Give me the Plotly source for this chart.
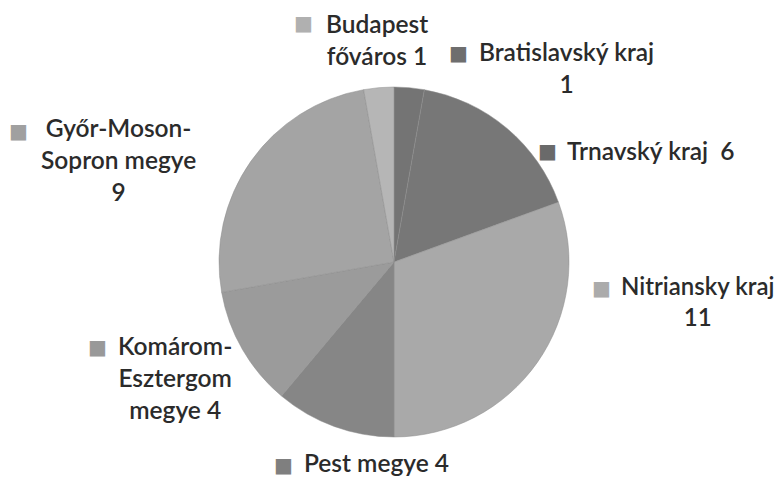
import plotly.graph_objects as go

regions = ["Bratislavský kraj", "Trnavský kraj", "Nitriansky kraj", "Pest megye",
           "Komárom-Esztergom megye", "Győr-Moson-Sopron megye", "Budapest főváros"]
counts = [1, 6, 11, 4, 4, 9, 1]
slice_colors = ["#747474", "#777777", "#a9a9a9", "#868686", "#9b9b9b", "#a4a4a4", "#b6b6b6"]
marker_colors = ["#6e6e6e", "#6a6a6a", "#ababab", "#7f7f7f", "#999999", "#a0a0a0", "#b0b0b0"]

# label text blocks (as wrapped in the original)
label_texts = [
    "Bratislavský kraj<br>1",
    "Trnavský kraj  6",
    "Nitriansky kraj<br>11",
    "Pest megye 4",
    "Komárom-<br>Esztergom<br>megye 4",
    "Győr-Moson-<br>Sopron megye<br>9",
    "Budapest<br>főváros 1",
]

# placement in screen pixels (page has an 8px body margin)
OFF = 8
W, H = 782 - OFF, 479 - OFF
label_cx = [566, 651, 697, 376, 175, 118, 377]
label_top = [35, 134, 269, 446, 329, 111, 7]
label_size = [24.5, 24.5, 24, 24.5, 24.5, 24.5, 24.5]
marker_xy = [(458, 53), (547, 151), (601, 288), (283, 465), (97, 347), (18, 131), (303, 23)]
pie_c = (394, 262)
pie_r = 175

FONT = "Lato, Open Sans, sans-serif"

fig = go.Figure(go.Pie(
    labels=regions,
    values=counts,
    sort=False,
    direction="clockwise",
    rotation=0,
    marker=dict(colors=slice_colors, line=dict(color="#8c8c8c", width=0.5)),
    textinfo="none",
    hoverinfo="label+value",
    showlegend=False,
    domain=dict(
        x=[(pie_c[0] - pie_r - OFF) / W, (pie_c[0] + pie_r - OFF) / W],
        y=[1 - (pie_c[1] + pie_r - OFF) / H, 1 - (pie_c[1] - pie_r - OFF) / H],
    ),
))

annotations = []
for txt, cx, top, sz in zip(label_texts, label_cx, label_top, label_size):
    annotations.append(dict(
        x=(cx - OFF) / W, y=1 - (top - OFF) / H, xref="paper", yref="paper",
        xanchor="center", yanchor="top", showarrow=False, align="center",
        text=txt, font=dict(family=FONT, size=sz, color="#2b2b2b", weight=600),
    ))
for (mx, my), col in zip(marker_xy, marker_colors):
    annotations.append(dict(
        x=(mx - OFF) / W, y=1 - (my - OFF) / H, xref="paper", yref="paper",
        xanchor="center", yanchor="middle", showarrow=False,
        text="■", font=dict(family="DejaVu Sans", size=20, color=col),
    ))

fig.update_layout(
    width=W, height=H,
    margin=dict(l=0, r=0, t=0, b=0),
    paper_bgcolor="white", plot_bgcolor="white",
    annotations=annotations,
)
fig.write_html("out.html")
